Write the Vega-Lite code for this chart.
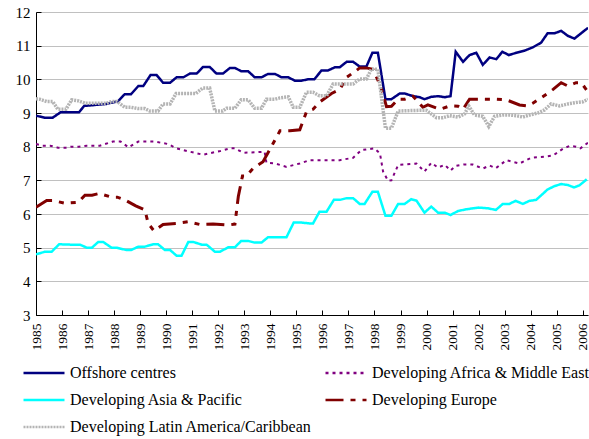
{
  "$schema": "https://vega.github.io/schema/vega-lite/v6.json",
  "width": 552,
  "height": 303,
  "autosize": {"type": "none"},
  "padding": {"left": 36, "top": 12, "right": 1, "bottom": 124},
  "background": "white",
  "config": {
    "view": {"stroke": null},
    "font": "Liberation Serif, Times New Roman, serif",
    "axis": {"labelFont": "Liberation Serif, Times New Roman, serif", "labelColor": "black", "domainColor": "black", "tickColor": "black", "domainWidth": 1, "tickWidth": 1},
    "legend": {"labelFont": "Liberation Serif, Times New Roman, serif", "labelFontSize": 16, "labelColor": "black", "labelLimit": 400, "symbolStrokeWidth": 2.5, "symbolSize": 1681, "symbolType": "stroke", "clipHeight": 18, "rowPadding": 9, "columnPadding": 12, "padding": 0, "labelOffset": 4}
  },
  "data": {"values": [
    {"s":"Offshore centres","t":1985.0,"v":8.92},{"s":"Offshore centres","t":1985.34,"v":8.86},{"s":"Offshore centres","t":1985.64,"v":8.86},{"s":"Offshore centres","t":1985.94,"v":9.02},{"s":"Offshore centres","t":1986.65,"v":9.02},{"s":"Offshore centres","t":1986.85,"v":9.21},{"s":"Offshore centres","t":1987.71,"v":9.27},{"s":"Offshore centres","t":1988.15,"v":9.35},{"s":"Offshore centres","t":1988.41,"v":9.56},{"s":"Offshore centres","t":1988.65,"v":9.56},{"s":"Offshore centres","t":1988.93,"v":9.8},{"s":"Offshore centres","t":1989.12,"v":9.8},{"s":"Offshore centres","t":1989.4,"v":10.13},{"s":"Offshore centres","t":1989.63,"v":10.13},{"s":"Offshore centres","t":1989.88,"v":9.9},{"s":"Offshore centres","t":1990.15,"v":9.9},{"s":"Offshore centres","t":1990.4,"v":10.06},{"s":"Offshore centres","t":1990.66,"v":10.06},{"s":"Offshore centres","t":1990.91,"v":10.17},{"s":"Offshore centres","t":1991.17,"v":10.17},{"s":"Offshore centres","t":1991.42,"v":10.37},{"s":"Offshore centres","t":1991.67,"v":10.37},{"s":"Offshore centres","t":1991.93,"v":10.17},{"s":"Offshore centres","t":1992.18,"v":10.17},{"s":"Offshore centres","t":1992.45,"v":10.34},{"s":"Offshore centres","t":1992.64,"v":10.34},{"s":"Offshore centres","t":1992.88,"v":10.24},{"s":"Offshore centres","t":1993.15,"v":10.24},{"s":"Offshore centres","t":1993.4,"v":10.06},{"s":"Offshore centres","t":1993.66,"v":10.06},{"s":"Offshore centres","t":1993.91,"v":10.16},{"s":"Offshore centres","t":1994.18,"v":10.16},{"s":"Offshore centres","t":1994.43,"v":10.06},{"s":"Offshore centres","t":1994.69,"v":10.06},{"s":"Offshore centres","t":1994.94,"v":9.96},{"s":"Offshore centres","t":1995.19,"v":9.96},{"s":"Offshore centres","t":1995.45,"v":10.0},{"s":"Offshore centres","t":1995.69,"v":10.0},{"s":"Offshore centres","t":1995.96,"v":10.26},{"s":"Offshore centres","t":1996.21,"v":10.26},{"s":"Offshore centres","t":1996.48,"v":10.36},{"s":"Offshore centres","t":1996.67,"v":10.36},{"s":"Offshore centres","t":1996.93,"v":10.52},{"s":"Offshore centres","t":1997.18,"v":10.52},{"s":"Offshore centres","t":1997.43,"v":10.38},{"s":"Offshore centres","t":1997.69,"v":10.38},{"s":"Offshore centres","t":1997.92,"v":10.79},{"s":"Offshore centres","t":1998.13,"v":10.79},{"s":"Offshore centres","t":1998.42,"v":9.41},{"s":"Offshore centres","t":1998.65,"v":9.41},{"s":"Offshore centres","t":1998.97,"v":9.58},{"s":"Offshore centres","t":1999.16,"v":9.58},{"s":"Offshore centres","t":1999.48,"v":9.5},{"s":"Offshore centres","t":1999.73,"v":9.47},{"s":"Offshore centres","t":1999.92,"v":9.41},{"s":"Offshore centres","t":2000.18,"v":9.48},{"s":"Offshore centres","t":2000.44,"v":9.5},{"s":"Offshore centres","t":2000.7,"v":9.47},{"s":"Offshore centres","t":2000.92,"v":9.5},{"s":"Offshore centres","t":2001.12,"v":10.82},{"s":"Offshore centres","t":2001.4,"v":10.52},{"s":"Offshore centres","t":2001.65,"v":10.72},{"s":"Offshore centres","t":2001.91,"v":10.79},{"s":"Offshore centres","t":2002.16,"v":10.43},{"s":"Offshore centres","t":2002.42,"v":10.65},{"s":"Offshore centres","t":2002.68,"v":10.6},{"s":"Offshore centres","t":2002.91,"v":10.82},{"s":"Offshore centres","t":2003.16,"v":10.72},{"s":"Offshore centres","t":2003.45,"v":10.79},{"s":"Offshore centres","t":2003.76,"v":10.85},{"s":"Offshore centres","t":2004.08,"v":10.95},{"s":"Offshore centres","t":2004.4,"v":11.09},{"s":"Offshore centres","t":2004.65,"v":11.37},{"s":"Offshore centres","t":2004.92,"v":11.37},{"s":"Offshore centres","t":2005.17,"v":11.44},{"s":"Offshore centres","t":2005.43,"v":11.29},{"s":"Offshore centres","t":2005.68,"v":11.21},{"s":"Offshore centres","t":2005.94,"v":11.37},{"s":"Offshore centres","t":2006.2,"v":11.53},

    {"s":"Developing Africa & Middle East","t":1985.0,"v":8.08},{"s":"Developing Africa & Middle East","t":1985.24,"v":8.03},{"s":"Developing Africa & Middle East","t":1985.54,"v":8.03},{"s":"Developing Africa & Middle East","t":1985.84,"v":7.97},{"s":"Developing Africa & Middle East","t":1986.15,"v":7.97},{"s":"Developing Africa & Middle East","t":1986.35,"v":8.0},{"s":"Developing Africa & Middle East","t":1986.65,"v":8.0},{"s":"Developing Africa & Middle East","t":1986.95,"v":8.03},{"s":"Developing Africa & Middle East","t":1987.45,"v":8.03},{"s":"Developing Africa & Middle East","t":1987.95,"v":8.15},{"s":"Developing Africa & Middle East","t":1988.25,"v":8.15},{"s":"Developing Africa & Middle East","t":1988.55,"v":7.98},{"s":"Developing Africa & Middle East","t":1988.93,"v":8.15},{"s":"Developing Africa & Middle East","t":1989.56,"v":8.15},{"s":"Developing Africa & Middle East","t":1990.06,"v":8.08},{"s":"Developing Africa & Middle East","t":1990.4,"v":7.95},{"s":"Developing Africa & Middle East","t":1990.91,"v":7.85},{"s":"Developing Africa & Middle East","t":1991.42,"v":7.76},{"s":"Developing Africa & Middle East","t":1991.87,"v":7.84},{"s":"Developing Africa & Middle East","t":1992.08,"v":7.87},{"s":"Developing Africa & Middle East","t":1992.45,"v":7.95},{"s":"Developing Africa & Middle East","t":1992.64,"v":7.95},{"s":"Developing Africa & Middle East","t":1992.96,"v":7.82},{"s":"Developing Africa & Middle East","t":1993.28,"v":7.83},{"s":"Developing Africa & Middle East","t":1993.78,"v":7.85},{"s":"Developing Africa & Middle East","t":1993.85,"v":7.52},{"s":"Developing Africa & Middle East","t":1994.18,"v":7.5},{"s":"Developing Africa & Middle East","t":1994.62,"v":7.4},{"s":"Developing Africa & Middle East","t":1995.13,"v":7.5},{"s":"Developing Africa & Middle East","t":1995.51,"v":7.6},{"s":"Developing Africa & Middle East","t":1996.67,"v":7.6},{"s":"Developing Africa & Middle East","t":1997.18,"v":7.67},{"s":"Developing Africa & Middle East","t":1997.5,"v":7.9},{"s":"Developing Africa & Middle East","t":1998.0,"v":7.95},{"s":"Developing Africa & Middle East","t":1998.21,"v":7.8},{"s":"Developing Africa & Middle East","t":1998.33,"v":7.26},{"s":"Developing Africa & Middle East","t":1998.52,"v":6.99},{"s":"Developing Africa & Middle East","t":1998.65,"v":7.0},{"s":"Developing Africa & Middle East","t":1998.91,"v":7.46},{"s":"Developing Africa & Middle East","t":1999.61,"v":7.5},{"s":"Developing Africa & Middle East","t":1999.92,"v":7.26},{"s":"Developing Africa & Middle East","t":2000.18,"v":7.52},{"s":"Developing Africa & Middle East","t":2000.44,"v":7.38},{"s":"Developing Africa & Middle East","t":2000.7,"v":7.46},{"s":"Developing Africa & Middle East","t":2000.92,"v":7.29},{"s":"Developing Africa & Middle East","t":2001.12,"v":7.43},{"s":"Developing Africa & Middle East","t":2001.42,"v":7.47},{"s":"Developing Africa & Middle East","t":2001.77,"v":7.47},{"s":"Developing Africa & Middle East","t":2002.16,"v":7.35},{"s":"Developing Africa & Middle East","t":2002.42,"v":7.44},{"s":"Developing Africa & Middle East","t":2002.66,"v":7.36},{"s":"Developing Africa & Middle East","t":2003.07,"v":7.6},{"s":"Developing Africa & Middle East","t":2003.57,"v":7.5},{"s":"Developing Africa & Middle East","t":2004.02,"v":7.67},{"s":"Developing Africa & Middle East","t":2004.53,"v":7.7},{"s":"Developing Africa & Middle East","t":2004.86,"v":7.74},{"s":"Developing Africa & Middle East","t":2005.24,"v":7.94},{"s":"Developing Africa & Middle East","t":2005.49,"v":8.02},{"s":"Developing Africa & Middle East","t":2005.74,"v":8.0},{"s":"Developing Africa & Middle East","t":2005.91,"v":7.95},{"s":"Developing Africa & Middle East","t":2006.2,"v":8.12},

    {"s":"Developing Asia & Pacific","t":1985.0,"v":4.8},{"s":"Developing Asia & Pacific","t":1985.34,"v":4.88},{"s":"Developing Asia & Pacific","t":1985.6,"v":4.88},{"s":"Developing Asia & Pacific","t":1985.89,"v":5.1},{"s":"Developing Asia & Pacific","t":1986.31,"v":5.09},{"s":"Developing Asia & Pacific","t":1986.69,"v":5.09},{"s":"Developing Asia & Pacific","t":1986.95,"v":5.0},{"s":"Developing Asia & Pacific","t":1987.15,"v":5.0},{"s":"Developing Asia & Pacific","t":1987.39,"v":5.17},{"s":"Developing Asia & Pacific","t":1987.58,"v":5.17},{"s":"Developing Asia & Pacific","t":1987.9,"v":5.0},{"s":"Developing Asia & Pacific","t":1988.09,"v":5.0},{"s":"Developing Asia & Pacific","t":1988.47,"v":4.93},{"s":"Developing Asia & Pacific","t":1988.65,"v":4.93},{"s":"Developing Asia & Pacific","t":1988.93,"v":5.03},{"s":"Developing Asia & Pacific","t":1989.18,"v":5.03},{"s":"Developing Asia & Pacific","t":1989.5,"v":5.1},{"s":"Developing Asia & Pacific","t":1989.69,"v":5.1},{"s":"Developing Asia & Pacific","t":1989.95,"v":4.93},{"s":"Developing Asia & Pacific","t":1990.15,"v":4.93},{"s":"Developing Asia & Pacific","t":1990.4,"v":4.76},{"s":"Developing Asia & Pacific","t":1990.59,"v":4.76},{"s":"Developing Asia & Pacific","t":1990.85,"v":5.17},{"s":"Developing Asia & Pacific","t":1991.04,"v":5.17},{"s":"Developing Asia & Pacific","t":1991.36,"v":5.09},{"s":"Developing Asia & Pacific","t":1991.55,"v":5.09},{"s":"Developing Asia & Pacific","t":1991.87,"v":4.88},{"s":"Developing Asia & Pacific","t":1992.07,"v":4.88},{"s":"Developing Asia & Pacific","t":1992.38,"v":5.01},{"s":"Developing Asia & Pacific","t":1992.64,"v":5.01},{"s":"Developing Asia & Pacific","t":1992.88,"v":5.2},{"s":"Developing Asia & Pacific","t":1993.15,"v":5.2},{"s":"Developing Asia & Pacific","t":1993.4,"v":5.15},{"s":"Developing Asia & Pacific","t":1993.66,"v":5.15},{"s":"Developing Asia & Pacific","t":1993.91,"v":5.31},{"s":"Developing Asia & Pacific","t":1994.62,"v":5.31},{"s":"Developing Asia & Pacific","t":1994.9,"v":5.75},{"s":"Developing Asia & Pacific","t":1995.13,"v":5.75},{"s":"Developing Asia & Pacific","t":1995.51,"v":5.72},{"s":"Developing Asia & Pacific","t":1995.64,"v":5.72},{"s":"Developing Asia & Pacific","t":1995.89,"v":6.07},{"s":"Developing Asia & Pacific","t":1996.16,"v":6.07},{"s":"Developing Asia & Pacific","t":1996.44,"v":6.42},{"s":"Developing Asia & Pacific","t":1996.67,"v":6.42},{"s":"Developing Asia & Pacific","t":1996.93,"v":6.47},{"s":"Developing Asia & Pacific","t":1997.18,"v":6.47},{"s":"Developing Asia & Pacific","t":1997.43,"v":6.3},{"s":"Developing Asia & Pacific","t":1997.62,"v":6.3},{"s":"Developing Asia & Pacific","t":1997.92,"v":6.66},{"s":"Developing Asia & Pacific","t":1998.13,"v":6.66},{"s":"Developing Asia & Pacific","t":1998.42,"v":5.95},{"s":"Developing Asia & Pacific","t":1998.65,"v":5.95},{"s":"Developing Asia & Pacific","t":1998.91,"v":6.3},{"s":"Developing Asia & Pacific","t":1999.16,"v":6.3},{"s":"Developing Asia & Pacific","t":1999.41,"v":6.44},{"s":"Developing Asia & Pacific","t":1999.61,"v":6.4},{"s":"Developing Asia & Pacific","t":1999.92,"v":6.04},{"s":"Developing Asia & Pacific","t":2000.18,"v":6.22},{"s":"Developing Asia & Pacific","t":2000.44,"v":6.04},{"s":"Developing Asia & Pacific","t":2000.7,"v":6.04},{"s":"Developing Asia & Pacific","t":2000.92,"v":5.97},{"s":"Developing Asia & Pacific","t":2001.21,"v":6.09},{"s":"Developing Asia & Pacific","t":2001.53,"v":6.14},{"s":"Developing Asia & Pacific","t":2001.98,"v":6.19},{"s":"Developing Asia & Pacific","t":2002.36,"v":6.17},{"s":"Developing Asia & Pacific","t":2002.66,"v":6.12},{"s":"Developing Asia & Pacific","t":2002.93,"v":6.3},{"s":"Developing Asia & Pacific","t":2003.18,"v":6.3},{"s":"Developing Asia & Pacific","t":2003.42,"v":6.39},{"s":"Developing Asia & Pacific","t":2003.7,"v":6.3},{"s":"Developing Asia & Pacific","t":2003.95,"v":6.39},{"s":"Developing Asia & Pacific","t":2004.21,"v":6.42},{"s":"Developing Asia & Pacific","t":2004.65,"v":6.73},{"s":"Developing Asia & Pacific","t":2004.92,"v":6.83},{"s":"Developing Asia & Pacific","t":2005.17,"v":6.89},{"s":"Developing Asia & Pacific","t":2005.43,"v":6.86},{"s":"Developing Asia & Pacific","t":2005.66,"v":6.79},{"s":"Developing Asia & Pacific","t":2005.87,"v":6.85},{"s":"Developing Asia & Pacific","t":2006.15,"v":7.03},

    {"s":"Developing Europe","t":1985.0,"v":6.2},{"s":"Developing Europe","t":1985.41,"v":6.4},{"s":"Developing Europe","t":1985.64,"v":6.4},{"s":"Developing Europe","t":1986.12,"v":6.32},{"s":"Developing Europe","t":1986.63,"v":6.35},{"s":"Developing Europe","t":1986.88,"v":6.56},{"s":"Developing Europe","t":1987.15,"v":6.56},{"s":"Developing Europe","t":1987.43,"v":6.61},{"s":"Developing Europe","t":1987.9,"v":6.5},{"s":"Developing Europe","t":1988.12,"v":6.5},{"s":"Developing Europe","t":1988.41,"v":6.42},{"s":"Developing Europe","t":1988.83,"v":6.24},{"s":"Developing Europe","t":1989.18,"v":6.12},{"s":"Developing Europe","t":1989.31,"v":5.72},{"s":"Developing Europe","t":1989.53,"v":5.5},{"s":"Developing Europe","t":1989.88,"v":5.69},{"s":"Developing Europe","t":1990.4,"v":5.72},{"s":"Developing Europe","t":1990.85,"v":5.77},{"s":"Developing Europe","t":1991.29,"v":5.69},{"s":"Developing Europe","t":1991.8,"v":5.7},{"s":"Developing Europe","t":1992.38,"v":5.67},{"s":"Developing Europe","t":1992.64,"v":5.7},{"s":"Developing Europe","t":1992.77,"v":6.52},{"s":"Developing Europe","t":1992.93,"v":7.13},{"s":"Developing Europe","t":1993.08,"v":7.13},{"s":"Developing Europe","t":1993.34,"v":7.36},{"s":"Developing Europe","t":1993.72,"v":7.55},{"s":"Developing Europe","t":1994.11,"v":8.1},{"s":"Developing Europe","t":1994.37,"v":8.47},{"s":"Developing Europe","t":1994.75,"v":8.47},{"s":"Developing Europe","t":1995.13,"v":8.5},{"s":"Developing Europe","t":1995.39,"v":9.04},{"s":"Developing Europe","t":1995.64,"v":9.11},{"s":"Developing Europe","t":1995.89,"v":9.32},{"s":"Developing Europe","t":1996.35,"v":9.58},{"s":"Developing Europe","t":1996.67,"v":9.7},{"s":"Developing Europe","t":1996.93,"v":10.06},{"s":"Developing Europe","t":1997.3,"v":10.26},{"s":"Developing Europe","t":1997.43,"v":10.34},{"s":"Developing Europe","t":1997.69,"v":10.34},{"s":"Developing Europe","t":1997.94,"v":10.3},{"s":"Developing Europe","t":1998.2,"v":9.86},{"s":"Developing Europe","t":1998.36,"v":9.48},{"s":"Developing Europe","t":1998.46,"v":9.19},{"s":"Developing Europe","t":1998.65,"v":9.2},{"s":"Developing Europe","t":1998.91,"v":9.41},{"s":"Developing Europe","t":1999.16,"v":9.41},{"s":"Developing Europe","t":1999.48,"v":9.5},{"s":"Developing Europe","t":1999.86,"v":9.17},{"s":"Developing Europe","t":2000.05,"v":9.24},{"s":"Developing Europe","t":2000.51,"v":9.11},{"s":"Developing Europe","t":2000.89,"v":9.21},{"s":"Developing Europe","t":2001.21,"v":9.2},{"s":"Developing Europe","t":2001.4,"v":9.11},{"s":"Developing Europe","t":2001.65,"v":9.41},{"s":"Developing Europe","t":2002.61,"v":9.41},{"s":"Developing Europe","t":2003.07,"v":9.39},{"s":"Developing Europe","t":2003.57,"v":9.24},{"s":"Developing Europe","t":2003.89,"v":9.21},{"s":"Developing Europe","t":2004.08,"v":9.29},{"s":"Developing Europe","t":2004.46,"v":9.48},{"s":"Developing Europe","t":2004.86,"v":9.7},{"s":"Developing Europe","t":2005.17,"v":9.9},{"s":"Developing Europe","t":2005.43,"v":9.8},{"s":"Developing Europe","t":2005.74,"v":9.9},{"s":"Developing Europe","t":2005.94,"v":9.9},{"s":"Developing Europe","t":2006.15,"v":9.68},

    {"s":"Developing Latin America/Caribbean","t":1985.0,"v":9.42},{"s":"Developing Latin America/Caribbean","t":1985.14,"v":9.41},{"s":"Developing Latin America/Caribbean","t":1985.41,"v":9.34},{"s":"Developing Latin America/Caribbean","t":1985.64,"v":9.34},{"s":"Developing Latin America/Caribbean","t":1985.84,"v":9.11},{"s":"Developing Latin America/Caribbean","t":1986.15,"v":9.11},{"s":"Developing Latin America/Caribbean","t":1986.37,"v":9.39},{"s":"Developing Latin America/Caribbean","t":1986.63,"v":9.36},{"s":"Developing Latin America/Caribbean","t":1986.88,"v":9.29},{"s":"Developing Latin America/Caribbean","t":1987.71,"v":9.29},{"s":"Developing Latin America/Caribbean","t":1987.9,"v":9.34},{"s":"Developing Latin America/Caribbean","t":1988.12,"v":9.34},{"s":"Developing Latin America/Caribbean","t":1988.41,"v":9.17},{"s":"Developing Latin America/Caribbean","t":1988.65,"v":9.17},{"s":"Developing Latin America/Caribbean","t":1988.93,"v":9.13},{"s":"Developing Latin America/Caribbean","t":1989.18,"v":9.13},{"s":"Developing Latin America/Caribbean","t":1989.37,"v":9.06},{"s":"Developing Latin America/Caribbean","t":1989.69,"v":9.06},{"s":"Developing Latin America/Caribbean","t":1989.88,"v":9.27},{"s":"Developing Latin America/Caribbean","t":1990.15,"v":9.27},{"s":"Developing Latin America/Caribbean","t":1990.38,"v":9.58},{"s":"Developing Latin America/Caribbean","t":1991.14,"v":9.58},{"s":"Developing Latin America/Caribbean","t":1991.4,"v":9.74},{"s":"Developing Latin America/Caribbean","t":1991.67,"v":9.74},{"s":"Developing Latin America/Caribbean","t":1991.87,"v":9.06},{"s":"Developing Latin America/Caribbean","t":1992.17,"v":9.06},{"s":"Developing Latin America/Caribbean","t":1992.32,"v":9.14},{"s":"Developing Latin America/Caribbean","t":1992.64,"v":9.14},{"s":"Developing Latin America/Caribbean","t":1992.88,"v":9.39},{"s":"Developing Latin America/Caribbean","t":1993.15,"v":9.39},{"s":"Developing Latin America/Caribbean","t":1993.4,"v":9.14},{"s":"Developing Latin America/Caribbean","t":1993.66,"v":9.14},{"s":"Developing Latin America/Caribbean","t":1993.85,"v":9.41},{"s":"Developing Latin America/Caribbean","t":1994.18,"v":9.41},{"s":"Developing Latin America/Caribbean","t":1994.37,"v":9.45},{"s":"Developing Latin America/Caribbean","t":1994.69,"v":9.48},{"s":"Developing Latin America/Caribbean","t":1994.88,"v":9.17},{"s":"Developing Latin America/Caribbean","t":1995.13,"v":9.17},{"s":"Developing Latin America/Caribbean","t":1995.39,"v":9.62},{"s":"Developing Latin America/Caribbean","t":1995.64,"v":9.62},{"s":"Developing Latin America/Caribbean","t":1995.89,"v":9.51},{"s":"Developing Latin America/Caribbean","t":1996.16,"v":9.51},{"s":"Developing Latin America/Caribbean","t":1996.41,"v":9.86},{"s":"Developing Latin America/Caribbean","t":1997.18,"v":9.86},{"s":"Developing Latin America/Caribbean","t":1997.43,"v":10.01},{"s":"Developing Latin America/Caribbean","t":1997.69,"v":10.01},{"s":"Developing Latin America/Caribbean","t":1997.88,"v":10.3},{"s":"Developing Latin America/Caribbean","t":1998.13,"v":10.3},{"s":"Developing Latin America/Caribbean","t":1998.42,"v":8.55},{"s":"Developing Latin America/Caribbean","t":1998.65,"v":8.55},{"s":"Developing Latin America/Caribbean","t":1998.91,"v":9.06},{"s":"Developing Latin America/Caribbean","t":1999.73,"v":9.08},{"s":"Developing Latin America/Caribbean","t":1999.99,"v":9.08},{"s":"Developing Latin America/Caribbean","t":2000.38,"v":8.86},{"s":"Developing Latin America/Caribbean","t":2000.63,"v":8.86},{"s":"Developing Latin America/Caribbean","t":2000.89,"v":8.92},{"s":"Developing Latin America/Caribbean","t":2001.21,"v":8.88},{"s":"Developing Latin America/Caribbean","t":2001.46,"v":8.97},{"s":"Developing Latin America/Caribbean","t":2001.62,"v":9.21},{"s":"Developing Latin America/Caribbean","t":2001.84,"v":8.94},{"s":"Developing Latin America/Caribbean","t":2002.16,"v":8.9},{"s":"Developing Latin America/Caribbean","t":2002.39,"v":8.6},{"s":"Developing Latin America/Caribbean","t":2002.61,"v":8.9},{"s":"Developing Latin America/Caribbean","t":2002.93,"v":8.94},{"s":"Developing Latin America/Caribbean","t":2003.19,"v":8.94},{"s":"Developing Latin America/Caribbean","t":2003.45,"v":8.92},{"s":"Developing Latin America/Caribbean","t":2003.7,"v":8.88},{"s":"Developing Latin America/Caribbean","t":2003.95,"v":8.94},{"s":"Developing Latin America/Caribbean","t":2004.27,"v":9.0},{"s":"Developing Latin America/Caribbean","t":2004.53,"v":9.09},{"s":"Developing Latin America/Caribbean","t":2004.78,"v":9.27},{"s":"Developing Latin America/Caribbean","t":2005.11,"v":9.21},{"s":"Developing Latin America/Caribbean","t":2005.43,"v":9.27},{"s":"Developing Latin America/Caribbean","t":2005.74,"v":9.31},{"s":"Developing Latin America/Caribbean","t":2006.0,"v":9.33},{"s":"Developing Latin America/Caribbean","t":2006.2,"v":9.41}
  ]},
  "mark": {"type": "line", "interpolate": "linear", "clip": true},
  "encoding": {
    "x": {"field": "t", "type": "quantitative",
      "scale": {"domain": [1985, 2006.2], "nice": false, "zero": false},
      "axis": {"title": null, "values": [1985,1986,1987,1988,1989,1990,1991,1992,1993,1994,1995,1996,1997,1998,1999,2000,2001,2002,2003,2004,2005,2006], "format": "d", "labelAngle": -90, "labelAlign": "right", "labelBaseline": "middle", "labelFontSize": 13.5, "tickSize": -5, "labelPadding": 13, "grid": false, "labelFlush": false, "labelOverlap": false}},
    "y": {"field": "v", "type": "quantitative",
      "scale": {"domain": [3, 12], "nice": false, "zero": false},
      "axis": {"title": null, "values": [3,4,5,6,7,8,9,10,11,12], "labelFontSize": 15, "tickSize": -5, "labelPadding": 11, "grid": true, "gridColor": "#c0c0c0", "gridWidth": 1, "labelFlush": false}},
    "color": {"field": "s", "type": "nominal",
      "scale": {"domain": ["Offshore centres", "Developing Africa & Middle East", "Developing Asia & Pacific", "Developing Europe", "Developing Latin America/Caribbean"],
                "range": ["#000080", "#800080", "#00FFFF", "#800000", "#b4b4b4"]},
      "legend": {"title": null, "orient": "none", "legendX": -14, "legendY": 352, "columns": 2, "direction": "horizontal"}},
    "strokeDash": {"field": "s", "type": "nominal",
      "scale": {"domain": ["Offshore centres", "Developing Africa & Middle East", "Developing Asia & Pacific", "Developing Europe", "Developing Latin America/Caribbean"],
                "range": [[1, 0], [3, 4], [1, 0], [18, 7, 5, 7, 5, 7], [2, 1]]},
      "legend": {"title": null, "orient": "none", "legendX": -14, "legendY": 352, "columns": 2, "direction": "horizontal"}},
    "strokeWidth": {"condition": [
        {"test": "datum.s === 'Developing Europe'", "value": 3},
        {"test": "datum.s === 'Developing Latin America/Caribbean'", "value": 3.5},
        {"test": "datum.s === 'Developing Africa & Middle East'", "value": 2}
      ], "value": 2.5}
  }
}
